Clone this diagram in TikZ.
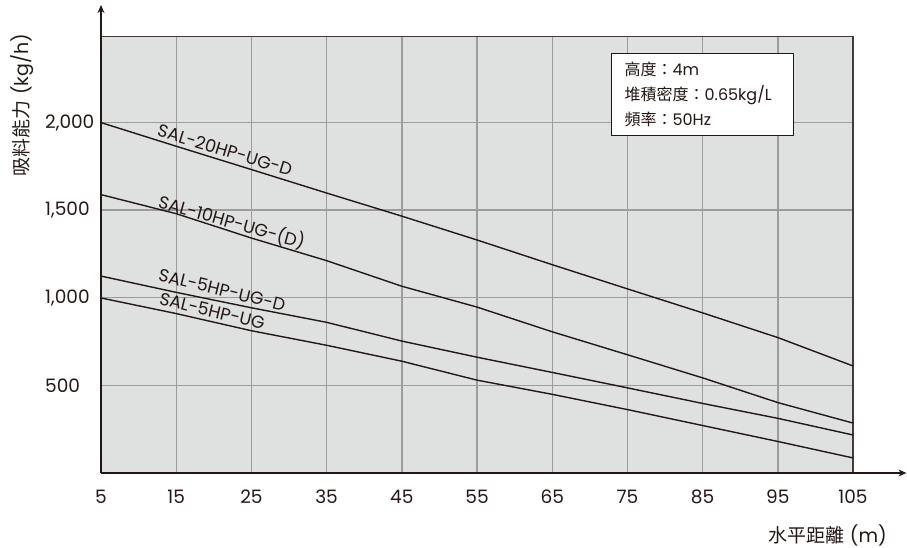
\documentclass[tikz,border=0pt]{standalone}
\usepackage{fontspec}
\setmainfont{Poppins}
\newfontfamily\cjk{Noto Sans CJK TC}
\usepackage{tikz}
\usetikzlibrary{arrows.meta}
\definecolor{ink}{HTML}{231815}
\definecolor{panel}{HTML}{DFE0E0}
\definecolor{gridc}{HTML}{9C9C9C}
\tikzset{
  curve/.style={draw=ink, line width=1.4pt, line join=round},
  gridln/.style={draw=gridc, line width=1.4pt},
  axis/.style={draw=ink, line width=1.5pt, -{Stealth[length=8pt,width=7pt]}},
  frame/.style={draw=ink!85, line width=1.4pt},
  tick/.style={text=ink, inner sep=0pt, font=\fontsize{18.5}{20}\selectfont},
  lab/.style={text=ink, inner sep=0pt, font=\fontsize{19}{21}\selectfont},
  cname/.style={text=ink, inner sep=0pt, font=\fontsize{17.5}{19}\selectfont},
  info/.style={draw=ink, fill=white, line width=1.2pt, align=left, anchor=north west,
    minimum width=182pt, minimum height=82pt, text width=156pt, inner xsep=13pt,
    text=ink, font=\fontsize{16}{25}\selectfont},
}

\begin{document}
\begin{tikzpicture}[x=7.52pt, y=0.1752pt]
  \useasboundingbox (-63.4pt,-75pt) rectangle ++(907pt,548pt);
  \def\ytop{2490}
  \coordinate (O) at (5,0);
  \coordinate (ytip) at (5,2671);
  \coordinate (xtip) at (112.1,0);
  % panel and grid
  \fill[panel] (5,0) rectangle (105,\ytop);
  \foreach \x in {15,25,...,95}
    \draw[gridln] (\x,0) -- (\x,\ytop);
  \foreach \y in {500,1000,1500,2000}
    \draw[gridln] (5,\y) -- (105,\y);
  \draw[frame] (5,\ytop) -- (105,\ytop) -- (105,0);
  % curves
  \draw[curve] plot coordinates {(5,2000) (15,1865) (25,1732) (35,1598) (45,1466) (55,1330)
    (65,1189) (75,1051) (85,914) (95,773) (105,611)};
  \draw[curve] plot coordinates {(5,1589) (15,1480) (25,1341) (35,1212) (45,1066) (55,947)
    (65,806) (75,675) (85,543) (95,402) (105,285)};
  \draw[curve] plot coordinates {(5,1124) (15,1031) (25,943) (35,860) (45,753) (55,661)
    (65,574) (75,486) (85,397) (95,312) (105,217)};
  \draw[curve] plot coordinates {(5,999) (15,910) (25,812) (35,729) (45,638) (55,530)
    (65,449) (75,362) (85,271) (95,180) (105,86)};
  \node[cname, rotate=-17] (c20) at (21.5,1844) {SAL-20HP-UG-D};
  \node[cname, rotate=-15.7] (c10) at (22.4,1433) {SAL-10HP-UG-(D)};
  \node[cname, rotate=-13.7] (c5d) at (21.1,1045) {SAL-5HP-UG-D};
  \node[cname, rotate=-13.6] (c5) at (19.8,925) {SAL-5HP-UG};
  % axes
  \draw[axis] (O) -- (ytip);
  \draw[axis] (O) -- (xtip);
  \foreach \x in {5,15,...,105}
    \node[tick] (xt\x) at ([yshift=-24pt]\x,0) {\x};
  \foreach \y/\t in {500/500,1000/{1,000},1500/{1,500},2000/{2,000}}
    \node[tick, anchor=west] (yt\y) at ([xshift=-56pt]5,\y) {\t};
  \node[lab, rotate=90] (ytitle) at ([shift={(-79pt,368pt)}]O) {{\cjk 吸料能力} (kg/h)};
  \node[lab, anchor=east] (xtitle) at ([shift={(786pt,-62pt)}]O) {{\cjk 水平距離} (m)};
  % conditions
  \node[info] (cond) at ([shift={(510pt,420pt)}]O)
    {{\cjk 高度：}4m\\{\cjk 堆積密度：}0.65kg/L\\{\cjk 頻率：}50Hz};
\end{tikzpicture}
\end{document}
